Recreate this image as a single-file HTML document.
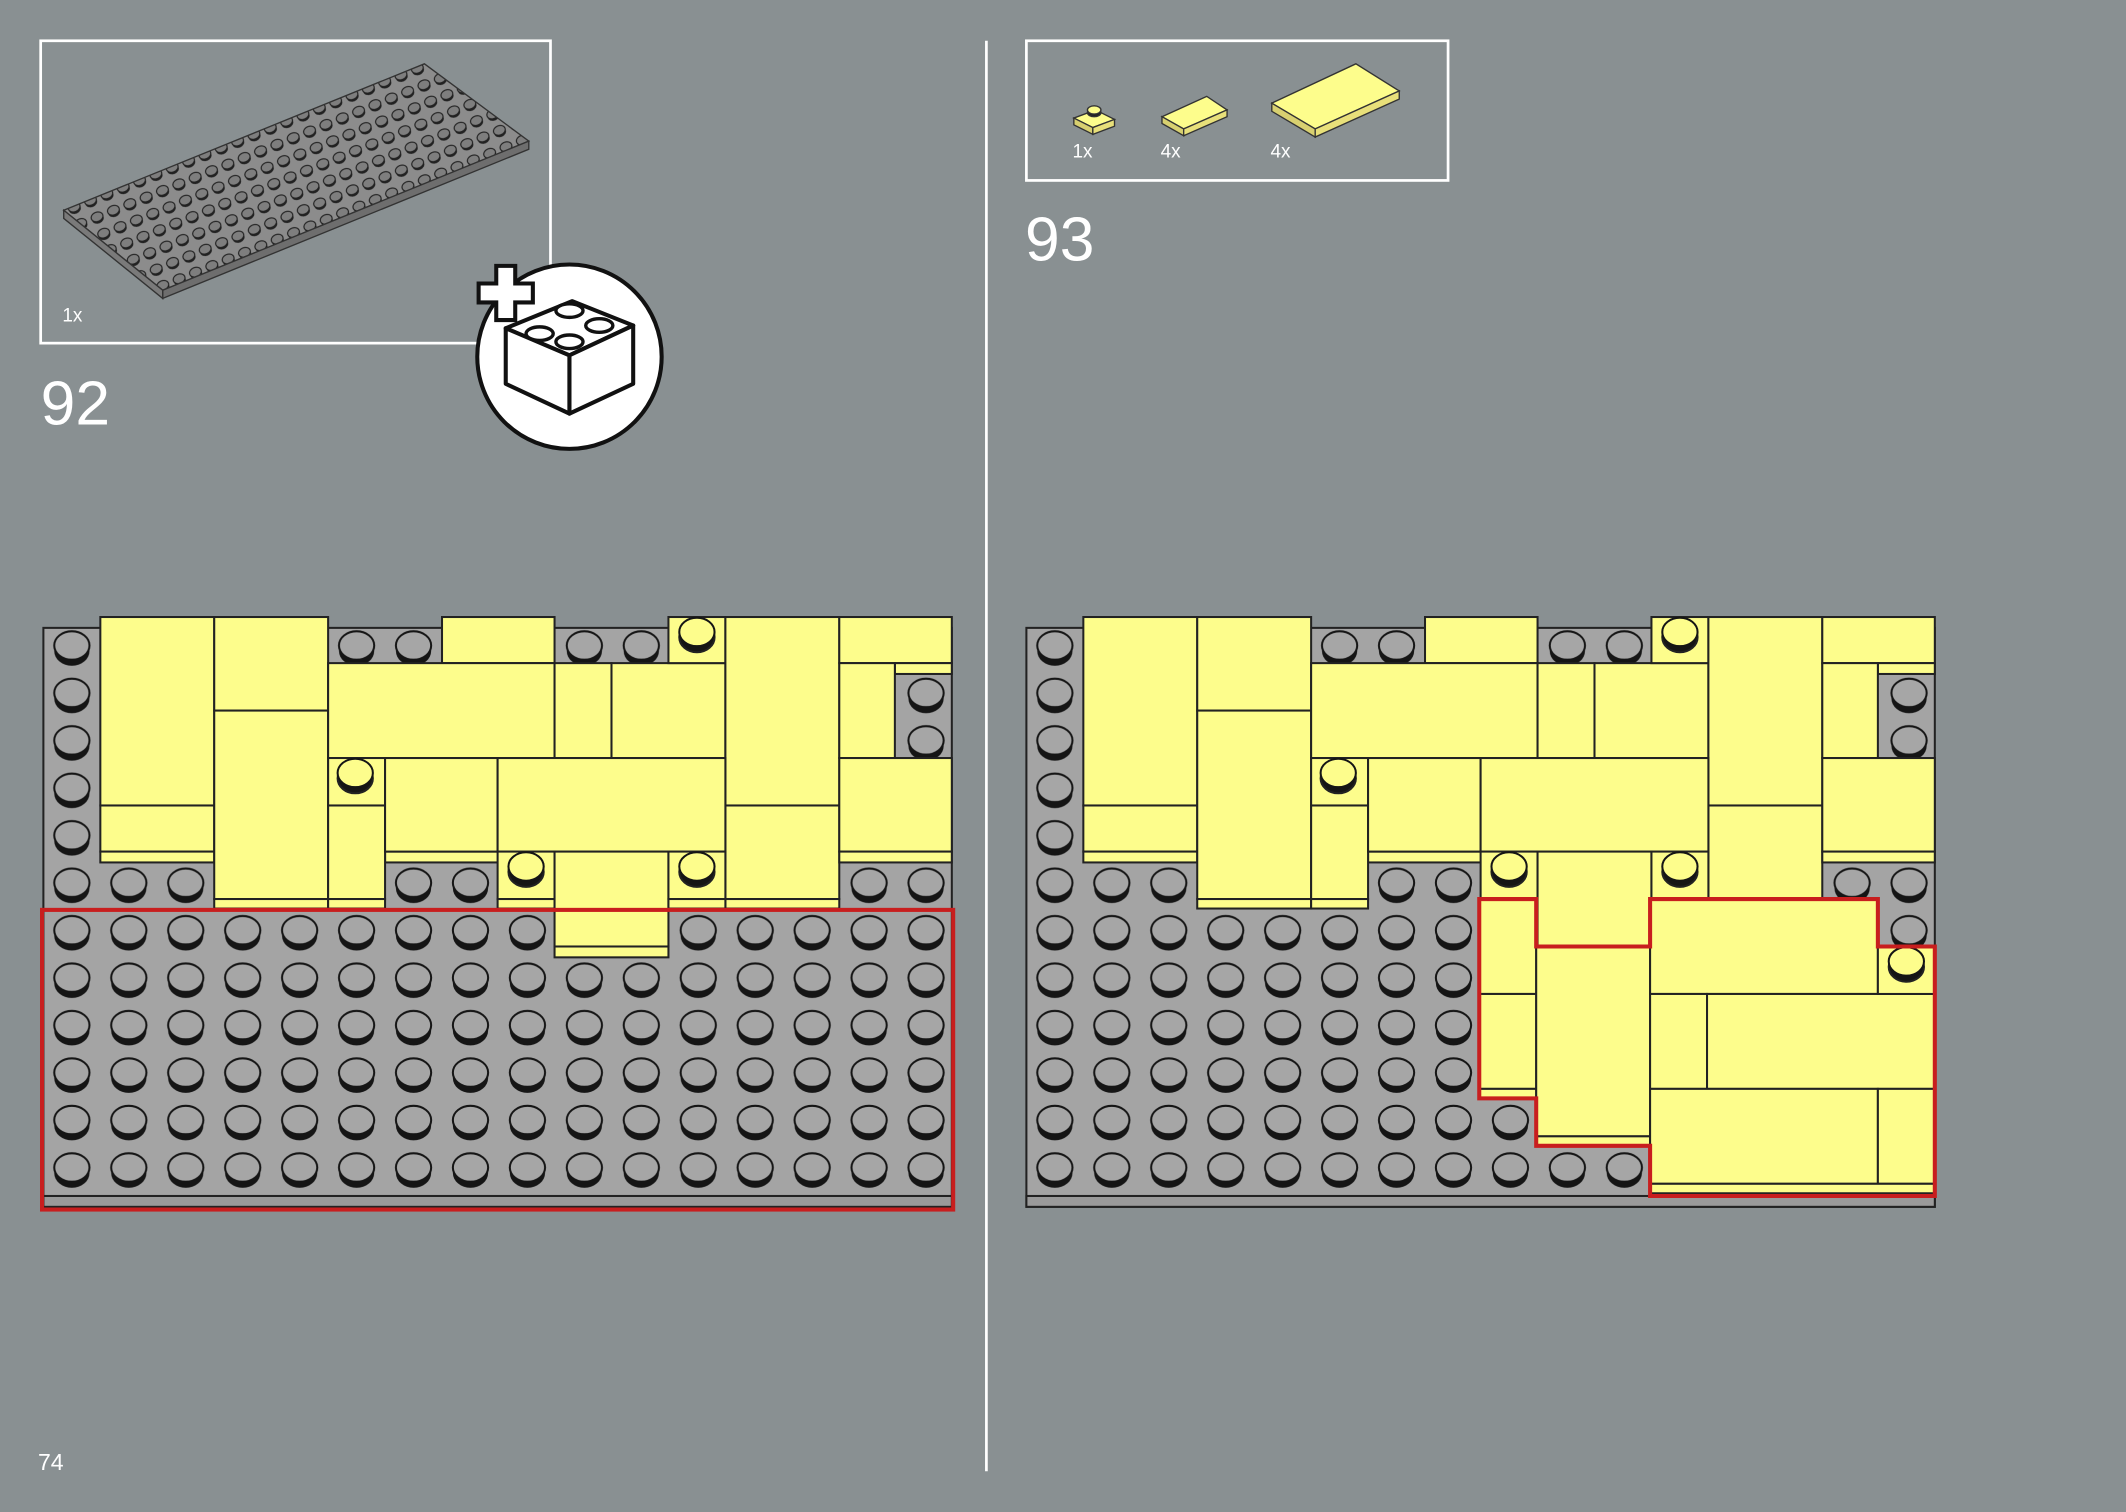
<!DOCTYPE html>
<html><head><meta charset="utf-8"><style>
html,body{margin:0;padding:0;background:#899092;}
svg{display:block}
text{font-family:"Liberation Sans",sans-serif;fill:#fff}
</style></head><body>
<svg width="2126" height="1512" viewBox="0 0 1568 1115" xmlns="http://www.w3.org/2000/svg">
<defs>
<pattern id="studs" x="32" y="459" width="42" height="35" patternUnits="userSpaceOnUse">
<rect width="42" height="35" fill="#a4a4a4"/>
<ellipse cx="21" cy="21" rx="13" ry="11" fill="#151515"/>
<ellipse cx="21" cy="17" rx="13" ry="10.5" fill="#a6a6a6" stroke="#151515" stroke-width="1.5"/>
</pattern>
<pattern id="mini" width="13" height="13" patternUnits="userSpaceOnUse" patternTransform="rotate(-22)">
<rect width="13" height="13" fill="#8c8c8c"/>
<ellipse cx="6.5" cy="7.5" rx="4.5" ry="3.6" fill="#222"/>
<ellipse cx="6.5" cy="6" rx="4.5" ry="3.4" fill="#7e7e7e" stroke="#222" stroke-width="0.8"/>
</pattern>
<g id="ystud">
<ellipse cx="0" cy="4" rx="13" ry="11" fill="#151515"/>
<ellipse cx="0" cy="0" rx="13" ry="10.5" fill="#fdfd8c" stroke="#151515" stroke-width="1.5"/>
</g>
<g id="base" stroke="#222" stroke-width="1.5" fill="#fdfd8c">
<rect x="32" y="463" width="670" height="427" fill="url(#studs)"/>
<rect x="32" y="882" width="670" height="8" fill="#9a9a9a"/>
<rect x="74" y="455" width="84" height="139"/>
<rect x="74" y="594" width="84" height="34"/><rect x="74" y="628" width="84" height="8"/>
<rect x="158" y="455" width="84" height="69"/>
<rect x="158" y="524" width="84" height="139"/><rect x="158" y="663" width="84" height="7"/>
<rect x="326" y="455" width="83" height="34"/>
<rect x="242" y="489" width="167" height="70"/>
<rect x="409" y="489" width="42" height="70"/>
<rect x="451" y="489" width="84" height="70"/>
<rect x="493" y="455" width="42" height="34"/>
<rect x="535" y="455" width="84" height="139"/>
<rect x="535" y="594" width="84" height="69"/><rect x="535" y="663" width="84" height="7"/>
<rect x="619" y="455" width="83" height="34"/><rect x="660" y="489" width="42" height="8"/>
<rect x="619" y="489" width="41" height="70"/>
<rect x="284" y="628" width="251" height="8"/>
<rect x="242" y="559" width="42" height="35"/>
<rect x="242" y="594" width="42" height="69"/><rect x="242" y="663" width="42" height="7"/>
<rect x="284" y="559" width="83" height="69"/>
<rect x="367" y="559" width="168" height="69"/>
<rect x="367" y="628" width="42" height="35"/><rect x="367" y="663" width="42" height="7"/>
<rect x="409" y="628" width="84" height="70"/><rect x="409" y="698" width="84" height="8"/>
<rect x="493" y="628" width="42" height="35"/><rect x="493" y="663" width="42" height="7"/>
<rect x="619" y="559" width="83" height="69"/><rect x="619" y="628" width="83" height="8"/>
<use href="#ystud" x="514" y="466"/>
<use href="#ystud" x="262" y="570"/>
<use href="#ystud" x="388" y="639"/>
<use href="#ystud" x="514" y="639"/>
</g>
</defs>

<line x1="727.5" y1="30" x2="727.5" y2="1085" stroke="#fff" stroke-width="2"/>

<rect x="30" y="30" width="376" height="223" fill="none" stroke="#fff" stroke-width="2"/>
<polygon points="47,155 313,47 390,104 120,214" fill="url(#mini)" stroke="#333" stroke-width="1"/>
<polygon points="120,214 390,104 390,110 120,220" fill="#6e6e6e" stroke="#333" stroke-width="1"/>
<polygon points="47,155 120,214 120,220 47,161" fill="#7a7a7a" stroke="#333" stroke-width="1"/>
<text x="46" y="237" font-size="14">1x</text>
<text x="30" y="313" font-size="46" font-weight="300">92</text>
<circle cx="420" cy="263" r="68" fill="#fff" stroke="#111" stroke-width="3"/>
<g stroke="#111" stroke-width="3" fill="#fff" stroke-linejoin="round">
<polygon points="373,242 422,222 467,240 420,262"/>
<polygon points="373,242 420,262 420,305 373,283"/>
<polygon points="420,262 467,240 467,283 420,305"/>
<g stroke-width="2.5">
<ellipse cx="398" cy="246" rx="10" ry="5"/><ellipse cx="442" cy="240" rx="10" ry="5"/>
<ellipse cx="420" cy="252" rx="10" ry="5"/><ellipse cx="420" cy="229" rx="10" ry="5"/>
</g>
</g>
<path d="M366,196 h14 v13 h13 v14 h-13 v13 h-14 v-13 h-13 v-14 h13 z" fill="#fff" stroke="#111" stroke-width="3"/>

<use href="#base"/>
<rect x="31" y="671" width="672" height="221" fill="none" stroke="#c81e1e" stroke-width="3"/>

<rect x="757" y="30" width="311" height="103" fill="none" stroke="#fff" stroke-width="2"/>
<g stroke="#333" stroke-width="1" fill="#fdfd8c">
<polygon points="792,87 808,81 822,88 806,94"/><polygon points="792,87 806,94 806,99 792,92" fill="#d8d070"/><polygon points="806,94 822,88 822,93 806,99" fill="#e8e07a"/>
<ellipse cx="807" cy="83" rx="5" ry="3" fill="#222"/><ellipse cx="807" cy="81" rx="5" ry="3"/>
<polygon points="857,86 890,71 905,81 873,95"/><polygon points="857,86 873,95 873,100 857,91" fill="#d8d070"/><polygon points="873,95 905,81 905,86 873,100" fill="#e8e07a"/>
<polygon points="938,76 1000,47 1032,67 970,95"/><polygon points="938,76 970,95 970,101 938,82" fill="#d8d070"/><polygon points="970,95 1032,67 1032,73 970,101" fill="#e8e07a"/>
</g>
<text x="791" y="116" font-size="14">1x</text>
<text x="856" y="116" font-size="14">4x</text>
<text x="937" y="116" font-size="14">4x</text>
<text x="756" y="192" font-size="46" font-weight="300">93</text>

<use href="#base" transform="translate(725,0)"/>
<g stroke="#222" stroke-width="1.5" fill="#fdfd8c">
<rect x="1091" y="663" width="42" height="70"/><rect x="1091" y="733" width="42" height="70"/><rect x="1091" y="803" width="42" height="7"/>
<rect x="1133" y="698" width="84" height="140"/><rect x="1133" y="838" width="84" height="7"/>
<rect x="1217" y="663" width="168" height="70"/>
<rect x="1217" y="733" width="42" height="70"/>
<rect x="1259" y="733" width="168" height="70"/>
<rect x="1385" y="698" width="42" height="35"/>
<rect x="1217" y="803" width="168" height="70"/><rect x="1385" y="803" width="42" height="70"/>
<rect x="1217" y="873" width="210" height="7"/>
<use href="#ystud" x="1406" y="709"/>
</g>
<path d="M1091,663 H1133 V698 H1217 V663 H1385 V698 H1427 V882 H1217 V845 H1133 V810 H1091 Z" fill="none" stroke="#c81e1e" stroke-width="3"/>

<text x="28" y="1084" font-size="17">74</text>
</svg>
</body></html>
